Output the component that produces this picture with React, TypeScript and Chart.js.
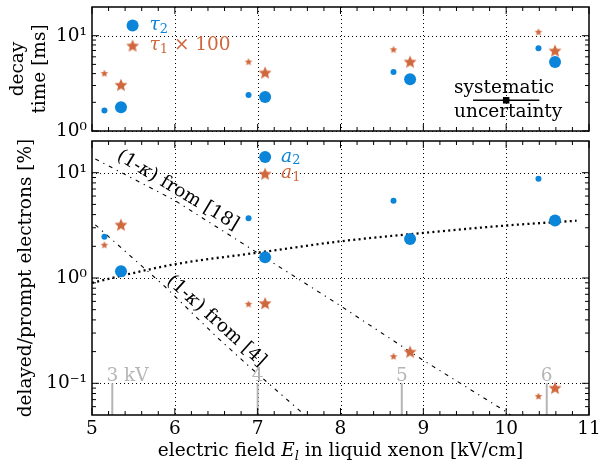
import React, { useEffect, useRef } from 'react';
import { Chart, registerables } from 'chart.js';
Chart.register(...registerables);

const FONT_FAMILY = '"DejaVu Serif", "Liberation Serif", serif';
const FS = 18.5;
const BLUE = '#0a85d9';
const ORANGE = '#d0683e';
const GRAY = '#b5b5b5';

// ---------- data ----------
const fieldSmall = [5.15, 6.89, 8.64, 10.39];
const fieldLarge = [5.35, 7.09, 8.84, 10.59];

// top panel: decay times [ms]
const tau2Small = [1.64, 2.39, 4.15, 7.4];
const tau2Large = [1.77, 2.28, 3.5, 5.3];
const tau1x100Small = [4.05, 5.36, 7.2, 11.0];
const tau1x100Large = [3.06, 4.12, 5.36, 7.0];

// bottom panel: delayed/prompt electrons [%]
const a2Small = [2.46, 3.7, 5.41, 8.77];
const a2Large = [1.16, 1.57, 2.35, 3.51];
const a1Small = [2.07, 0.569, 0.181, 0.0757];
const a1Large = [3.22, 0.578, 0.2, 0.0908];

// dotted model curve
const curveField = [5.0, 5.33, 6.0, 7.0, 8.0, 9.0, 10.0, 10.85];
const curveValue = [0.9, 1.04, 1.35, 1.74, 2.23, 2.68, 3.15, 3.5];
// (1-kappa) from [18]
const kappa18Field = [5.04, 6.0, 6.96, 7.98, 8.99, 10.0, 10.1];
const kappa18Value = [13.5, 5.45, 1.81, 0.557, 0.167, 0.0537, 0.047];
// (1-kappa) from [4]
const kappa4Field = [5.04, 5.88, 6.5, 6.9, 7.5, 7.62];
const kappa4Value = [3.2, 0.83, 0.278, 0.144, 0.0557, 0.046];

// anode voltage markers
const voltageField = [5.245, 7.0, 8.74, 10.49];
const voltageLabels = ['3 kV', '4', '5', '6'];
const voltageTop = 0.1;

// systematic uncertainty marker
const sysField = 10.0;
const sysValue = 2.1;
const sysHalfWidth = 0.4;

// axes
const xMin = 5;
const xMax = 11;
const xGridValues = [6, 7, 8, 9, 10];
const xMajorTicks = [5, 6, 7, 8, 9, 10, 11];
const xMinorStep = 0.2;
const topYMin = 1;
const topYMax = 20;
const topDecades = [1, 10];
const botYMin = 0.05;
const botYMax = 20;
const botDecades = [0.1, 1, 10];
const minorMultipliers = [2, 3, 4, 5, 6, 7, 8, 9];

// ---------- helpers ----------
const pts = (xs: number[], ys: number[]) => xs.map((x, i) => ({ x, y: ys[i] }));

function makeStar(outer: number, color: string) {
  const inner = outer * 0.46;
  const size = Math.ceil(outer * 2 + 2);
  const c = document.createElement('canvas');
  c.width = size;
  c.height = size;
  const g = c.getContext('2d')!;
  g.beginPath();
  const cx = size / 2;
  const cy = size / 2 + outer * 0.1;
  for (let i = 0; i < 10; i++) {
    const r = i % 2 ? inner : outer;
    const a = -Math.PI / 2 + (i * Math.PI) / 5;
    g.lineTo(cx + r * Math.cos(a), cy + r * Math.sin(a));
  }
  g.closePath();
  g.fillStyle = color;
  g.fill();
  return c;
}

const SUP: Record<string, string> = { '-': '⁻', '0': '⁰', '1': '¹', '2': '²', '3': '³' };
function decadeLabel(v: number) {
  const e = Math.round(Math.log10(v));
  return '10' + String(e).split('').map((ch) => SUP[ch] || ch).join('');
}

type Seg = { t: string; italic?: boolean; sub?: boolean; color?: string };
const fnt = (size: number, italic?: boolean) => `${italic ? 'italic ' : ''}${size}px ${FONT_FAMILY}`;

function drawRich(ctx: CanvasRenderingContext2D, segs: Seg[], x: number, y: number, size: number, align: 'left' | 'center', color: string) {
  let w = 0;
  const widths: number[] = [];
  for (const s of segs) {
    ctx.font = fnt(s.sub ? size * 0.7 : size, s.italic);
    const m = ctx.measureText(s.t).width;
    widths.push(m);
    w += m;
  }
  let cx = align === 'center' ? x - w / 2 : x;
  segs.forEach((s, i) => {
    ctx.font = fnt(s.sub ? size * 0.7 : size, s.italic);
    ctx.fillStyle = s.color || color;
    ctx.fillText(s.t, cx, s.sub ? y + size * 0.22 : y);
    cx += widths[i];
  });
}

function drawGrid(chart: any, decades: number[]) {
  const { ctx, chartArea: ca, scales } = chart;
  const x = scales.x;
  const y = scales.y;
  ctx.save();
  ctx.strokeStyle = '#000';
  ctx.lineWidth = 1;
  ctx.setLineDash([1, 3]);
  ctx.beginPath();
  for (const v of xGridValues) {
    const p = Math.round(x.getPixelForValue(v)) + 0.5;
    ctx.moveTo(p, ca.top);
    ctx.lineTo(p, ca.bottom);
  }
  for (const v of decades) {
    const p = Math.round(y.getPixelForValue(v)) + 0.5;
    ctx.moveTo(ca.left, p);
    ctx.lineTo(ca.right, p);
  }
  ctx.stroke();
  ctx.restore();
}

function drawFrame(chart: any, decades: number[], yMin: number, yMax: number) {
  const { ctx, chartArea: ca, scales } = chart;
  const x = scales.x;
  const y = scales.y;
  const MAJ = 7;
  const MIN = 4;
  ctx.save();
  ctx.setLineDash([]);
  ctx.strokeStyle = '#000';
  ctx.lineWidth = 1;
  ctx.beginPath();
  for (const v of xMajorTicks) {
    const p = x.getPixelForValue(v);
    ctx.moveTo(p, ca.bottom); ctx.lineTo(p, ca.bottom - MAJ);
    ctx.moveTo(p, ca.top); ctx.lineTo(p, ca.top + MAJ);
  }
  for (let v = xMin + xMinorStep; v < xMax - 1e-6; v += xMinorStep) {
    if (Math.abs(v - Math.round(v)) < 1e-6) continue;
    const p = x.getPixelForValue(v);
    ctx.moveTo(p, ca.bottom); ctx.lineTo(p, ca.bottom - MIN);
    ctx.moveTo(p, ca.top); ctx.lineTo(p, ca.top + MIN);
  }
  for (const v of decades) {
    const p = y.getPixelForValue(v);
    ctx.moveTo(ca.left, p); ctx.lineTo(ca.left + MAJ, p);
    ctx.moveTo(ca.right, p); ctx.lineTo(ca.right - MAJ, p);
  }
  const allDec = [0.01, ...decades, 100].filter((v, i, a) => a.indexOf(v) === i);
  for (const d of allDec) {
    for (const m of minorMultipliers) {
      const v = d * m;
      if (v <= yMin * 1.0001 || v >= yMax * 0.9999) continue;
      const p = y.getPixelForValue(v);
      ctx.moveTo(ca.left, p); ctx.lineTo(ca.left + MIN, p);
      ctx.moveTo(ca.right, p); ctx.lineTo(ca.right - MIN, p);
    }
  }
  ctx.stroke();
  ctx.lineWidth = 1.5;
  ctx.strokeRect(ca.left, ca.top, ca.right - ca.left, ca.bottom - ca.top);
  ctx.restore();
}

const pointDs = (data: any[], style: any, radius: number, color: string) => ({
  data,
  pointStyle: style,
  pointRadius: radius,
  pointBackgroundColor: color,
  pointBorderColor: color,
  pointBorderWidth: 0,
  showLine: false,
});

const lineDs = (data: any[], color: string, width: number, dash: number[], smooth = false) => ({
  data,
  showLine: true,
  borderColor: color,
  borderWidth: width,
  borderDash: dash,
  pointRadius: 0,
  cubicInterpolationMode: smooth ? 'monotone' : 'default',
});

function yScale(min: number, max: number, decades: number[], title: any) {
  return {
    type: 'logarithmic',
    min,
    max,
    grid: { display: false, drawTicks: false },
    border: { display: false },
    afterBuildTicks: (s: any) => {
      s.ticks = decades.map((v) => ({ value: v }));
    },
    afterFit: (s: any) => {
      s.width = 92;
      s.paddingTop = 0;
      s.paddingBottom = 0;
    },
    ticks: {
      callback: (v: any) => decadeLabel(Number(v)),
      font: { family: FONT_FAMILY, size: FS },
      color: '#000',
      padding: 5,
    },
    title,
  };
}

export default function App() {
  const topRef = useRef<HTMLCanvasElement>(null);
  const botRef = useRef<HTMLCanvasElement>(null);

  useEffect(() => {
    const starLarge = makeStar(6.8, ORANGE);
    const starSmall = makeStar(4.0, ORANGE);

    const topPlugin = {
      id: 'topDecor',
      beforeDatasetsDraw(chart: any) {
        drawGrid(chart, topDecades);
      },
      afterDatasetsDraw(chart: any) {
        drawFrame(chart, topDecades, topYMin, topYMax);
        const { ctx, scales } = chart;
        const x = scales.x;
        const y = scales.y;
        ctx.save();
        ctx.textBaseline = 'middle';
        // legend
        const lx = x.getPixelForValue(5.49);
        const ly1 = y.getPixelForValue(12.8);
        const ly2 = y.getPixelForValue(7.9);
        ctx.fillStyle = BLUE;
        ctx.beginPath();
        ctx.arc(lx, ly1, 6, 0, Math.PI * 2);
        ctx.fill();
        ctx.drawImage(starLarge, lx - starLarge.width / 2, ly2 - starLarge.height / 2);
        drawRich(ctx, [{ t: 'τ', italic: true }, { t: '2', sub: true }], lx + 17, ly1, FS, 'left', BLUE);
        drawRich(ctx, [{ t: 'τ', italic: true }, { t: '1', sub: true }, { t: ' × 100' }], lx + 17, ly2, FS, 'left', ORANGE);
        // systematic uncertainty
        const sx = x.getPixelForValue(sysField);
        const sy = y.getPixelForValue(sysValue);
        ctx.textBaseline = 'alphabetic';
        drawRich(ctx, [{ t: 'systematic' }], sx - 2, sy - 7, FS, 'center', '#000');
        drawRich(ctx, [{ t: 'uncertainty' }], sx + 2, sy + 17, FS, 'center', '#000');
        ctx.restore();
      },
    };

    const botPlugin = {
      id: 'botDecor',
      beforeDatasetsDraw(chart: any) {
        drawGrid(chart, botDecades);
      },
      afterDatasetsDraw(chart: any) {
        drawFrame(chart, botDecades, botYMin, botYMax);
        const { ctx, scales, chartArea: ca } = chart;
        const x = scales.x;
        const y = scales.y;
        ctx.save();
        // legend
        ctx.textBaseline = 'middle';
        const lx = x.getPixelForValue(7.09);
        const ly1 = y.getPixelForValue(14.1);
        const ly2 = y.getPixelForValue(9.8);
        ctx.fillStyle = BLUE;
        ctx.beginPath();
        ctx.arc(lx, ly1, 6, 0, Math.PI * 2);
        ctx.fill();
        ctx.drawImage(starLarge, lx - starLarge.width / 2, ly2 - starLarge.height / 2);
        drawRich(ctx, [{ t: 'a', italic: true }, { t: '2', sub: true }], lx + 16, ly1, FS, 'left', BLUE);
        drawRich(ctx, [{ t: 'a', italic: true }, { t: '1', sub: true }], lx + 16, ly2, FS, 'left', ORANGE);
        // rotated line labels
        const rot = (segs: Seg[], dx: number, dy: number, deg: number) => {
          ctx.save();
          ctx.translate(x.getPixelForValue(dx), y.getPixelForValue(dy));
          ctx.rotate((deg * Math.PI) / 180);
          ctx.textBaseline = 'middle';
          drawRich(ctx, segs, 0, 0, FS, 'center', '#000');
          ctx.restore();
        };
        rot([{ t: '(1-' }, { t: 'κ', italic: true }, { t: ') from [18]' }], 6.035, 6.8, 31);
        rot([{ t: '(1-' }, { t: 'κ', italic: true }, { t: ') from [4]' }], 6.5, 0.39, 42);
        // voltage labels
        ctx.textBaseline = 'alphabetic';
        ctx.font = fnt(FS);
        ctx.fillStyle = GRAY;
        voltageField.forEach((f, i) => {
          const px = x.getPixelForValue(f);
          const py = y.getPixelForValue(voltageTop) - 2;
          const half = ctx.measureText(voltageLabels[i].charAt(0)).width / 2;
          ctx.fillText(voltageLabels[i], px - half, py);
        });
        // x axis title
        drawRich(
          ctx,
          [
            { t: 'electric field ' },
            { t: 'E', italic: true },
            { t: 'l', italic: true, sub: true },
            { t: ' in liquid xenon [kV/cm]' },
          ],
          (ca.left + ca.right) / 2,
          chart.height - 4,
          FS,
          'center',
          '#000'
        );
        ctx.restore();
      },
    };

    const topChart = new Chart(topRef.current!, {
      type: 'scatter',
      data: {
        datasets: [
          pointDs(pts(fieldLarge, tau2Large), 'circle', 6, BLUE),
          pointDs(pts(fieldSmall, tau2Small), 'circle', 3, BLUE),
          pointDs(pts(fieldLarge, tau1x100Large), starLarge, 5, ORANGE),
          pointDs(pts(fieldSmall, tau1x100Small), starSmall, 4, ORANGE),
          pointDs([{ x: sysField, y: sysValue }], 'rect', 4.6, '#000'),
          lineDs(
            [
              { x: sysField - sysHalfWidth, y: sysValue },
              { x: sysField + sysHalfWidth, y: sysValue },
            ],
            '#000',
            1.5,
            []
          ),
        ] as any,
      },
      options: {
        responsive: false,
        animation: false,
        events: [],
        layout: { padding: { top: 7, bottom: 9, left: 0, right: 10 } },
        plugins: { legend: { display: false }, tooltip: { enabled: false } },
        scales: {
          x: {
            type: 'linear',
            min: xMin,
            max: xMax,
            grid: { display: false, drawTicks: false },
            border: { display: false },
            ticks: { display: false },
            afterFit: (s: any) => {
              s.height = 0;
              s.paddingLeft = 0;
              s.paddingRight = 0;
            },
          },
          y: yScale(topYMin, topYMax, topDecades, {
            display: true,
            text: ['decay', 'time [ms]'],
            color: '#000',
            font: { family: FONT_FAMILY, size: FS, lineHeight: 1.15 },
            padding: { top: 8, bottom: 0 },
          }),
        } as any,
      },
      plugins: [topPlugin],
    } as any);

    const voltageDs = voltageField.map((f) =>
      lineDs(
        [
          { x: f, y: voltageTop },
          { x: f, y: botYMin },
        ],
        GRAY,
        2,
        []
      )
    );

    const botChart = new Chart(botRef.current!, {
      type: 'scatter',
      data: {
        datasets: [
          pointDs(pts(fieldLarge, a2Large), 'circle', 6, BLUE),
          pointDs(pts(fieldSmall, a2Small), 'circle', 3, BLUE),
          pointDs(pts(fieldLarge, a1Large), starLarge, 5, ORANGE),
          pointDs(pts(fieldSmall, a1Small), starSmall, 4, ORANGE),
          lineDs(pts(curveField, curveValue), '#000', 2.3, [2, 3.3], true),
          lineDs(pts(kappa18Field, kappa18Value), '#000', 1.1, [4, 5, 1.2, 5]),
          lineDs(pts(kappa4Field, kappa4Value), '#000', 1.1, [4, 5, 1.2, 5]),
          ...voltageDs,
        ] as any,
      },
      options: {
        responsive: false,
        animation: false,
        events: [],
        layout: { padding: { top: 6, bottom: 0, left: 0, right: 10 } },
        plugins: { legend: { display: false }, tooltip: { enabled: false } },
        scales: {
          x: {
            type: 'linear',
            min: xMin,
            max: xMax,
            grid: { display: false, drawTicks: false },
            border: { display: false },
            ticks: {
              stepSize: 1,
              autoSkip: false,
              maxRotation: 0,
              font: { family: FONT_FAMILY, size: FS },
              color: '#000',
              padding: 3,
            },
            afterFit: (s: any) => {
              s.height = 45;
              s.paddingLeft = 0;
              s.paddingRight = 0;
            },
          },
          y: yScale(botYMin, botYMax, botDecades, {
            display: true,
            text: 'delayed/prompt electrons [%]',
            color: '#000',
            font: { family: FONT_FAMILY, size: FS, lineHeight: 1.15 },
            padding: { top: 16, bottom: 0 },
          }),
        } as any,
      },
      plugins: [botPlugin],
    } as any);

    return () => {
      topChart.destroy();
      botChart.destroy();
    };
  }, []);

  return (
    <div style={{ position: 'fixed', left: 0, top: 0, width: 599, height: 460, background: '#fff' }}>
      <canvas ref={topRef} width={599} height={140} style={{ position: 'absolute', left: 0, top: 0 }} />
      <canvas ref={botRef} width={599} height={325} style={{ position: 'absolute', left: 0, top: 135 }} />
    </div>
  );
}
